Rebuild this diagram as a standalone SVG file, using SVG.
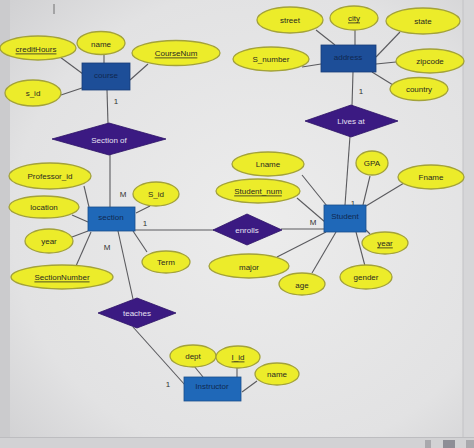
<svg xmlns="http://www.w3.org/2000/svg" width="474" height="448" viewBox="0 0 474 448">
<defs>
<radialGradient id="bg" cx="0.55" cy="0.5" r="0.75">
<stop offset="0" stop-color="#ececec"/>
<stop offset="0.7" stop-color="#e2e2e3"/>
<stop offset="1" stop-color="#cfcfd1"/>
</radialGradient>
<style>
.attr{fill:#ecec2a;stroke:#a3a23a;stroke-width:1.3}
.ent{fill:#1f68b8;stroke:#1a4f8c;stroke-width:0.8}
.entd{fill:#1d4e98;stroke:#173d78;stroke-width:0.8}
.rel{fill:#3b1a82;stroke:#2c1266;stroke-width:0.8}
.t{font-family:"Liberation Sans",Arial,sans-serif;font-size:8px;fill:#2a2a20;text-anchor:middle;dominant-baseline:central}
.tw{font-family:"Liberation Sans",Arial,sans-serif;font-size:8px;fill:#e6e0f2;text-anchor:middle;dominant-baseline:central}
.te{font-family:"Liberation Sans",Arial,sans-serif;font-size:8px;fill:#102850;text-anchor:middle;dominant-baseline:central}
.u{text-decoration:underline}
.c{font-family:"Liberation Sans",Arial,sans-serif;font-size:8px;fill:#333;text-anchor:middle;dominant-baseline:central}
.ln{stroke:#5a5a5e;stroke-width:1.1;fill:none}
</style>
</defs>
<rect x="0" y="0" width="474" height="448" fill="url(#bg)"/>
<rect x="0" y="0" width="10" height="438" fill="#cbcbcd"/>
<rect x="0" y="437" width="474" height="11" fill="#d2d2d4"/>
<line x1="0" y1="437.5" x2="474" y2="437.5" stroke="#bdbdc0" stroke-width="1"/>
<rect x="463" y="0" width="11" height="437" fill="#d6d6d8"/>
<line x1="463" y1="0" x2="463" y2="437" stroke="#c2c2c5" stroke-width="1"/>
<rect x="425" y="440" width="6" height="8" fill="#a9a9ad"/>
<rect x="443" y="440" width="12" height="8" fill="#8e8e96"/>
<rect x="466" y="440" width="8" height="8" fill="#a9a9ad"/>
<line x1="54" y1="4" x2="54" y2="14" stroke="#555" stroke-width="0.8"/>

<g id="connectors">
<line class="ln" x1="60" y1="57" x2="83" y2="74"/>
<line class="ln" x1="104" y1="55" x2="104" y2="63"/>
<line class="ln" x1="148" y1="64" x2="130" y2="80"/>
<line class="ln" x1="61" y1="95" x2="82" y2="88"/>
<line class="ln" x1="107" y1="90" x2="108" y2="124"/>
<line class="ln" x1="110" y1="154" x2="110" y2="207"/>
<line class="ln" x1="316" y1="30" x2="335" y2="45"/>
<line class="ln" x1="355" y1="30" x2="355" y2="45"/>
<line class="ln" x1="400" y1="32" x2="376" y2="57"/>
<line class="ln" x1="302" y1="67" x2="321" y2="64"/>
<line class="ln" x1="396" y1="62" x2="376" y2="64"/>
<line class="ln" x1="393" y1="85" x2="372" y2="72"/>
<line class="ln" x1="353" y1="72" x2="352" y2="106"/>
<line class="ln" x1="350" y1="136" x2="345" y2="205"/>
<line class="ln" x1="84" y1="186" x2="89" y2="207"/>
<line class="ln" x1="72" y1="215" x2="88" y2="222"/>
<line class="ln" x1="72" y1="237" x2="88" y2="231"/>
<line class="ln" x1="76" y1="266" x2="91" y2="232"/>
<line class="ln" x1="136" y1="213" x2="150" y2="206"/>
<line class="ln" x1="133" y1="231" x2="147" y2="252"/>
<line class="ln" x1="118" y1="231" x2="133" y2="299"/>
<line class="ln" x1="135" y1="230" x2="214" y2="230"/>
<line class="ln" x1="281" y1="229" x2="324" y2="229"/>
<line class="ln" x1="302" y1="175" x2="327" y2="206"/>
<line class="ln" x1="297" y1="198" x2="325" y2="222"/>
<line class="ln" x1="370" y1="176" x2="363" y2="205"/>
<line class="ln" x1="404" y1="183" x2="366" y2="206"/>
<line class="ln" x1="366" y1="230" x2="370" y2="234"/>
<line class="ln" x1="277" y1="257" x2="326" y2="232"/>
<line class="ln" x1="312" y1="273" x2="336" y2="232"/>
<line class="ln" x1="365" y1="266" x2="356" y2="232"/>
<line class="ln" x1="133" y1="327" x2="185" y2="385"/>
<line class="ln" x1="194" y1="366" x2="203" y2="377"/>
<line class="ln" x1="237" y1="368" x2="237" y2="377"/>
<line class="ln" x1="257" y1="381" x2="242" y2="392"/>
<text class="c" x="116" y="101">1</text>
<text class="c" x="361" y="91">1</text>
<text class="c" x="123" y="194">M</text>
<text class="c" x="145" y="223">1</text>
<text class="c" x="107" y="247">M</text>
<text class="c" x="313" y="222">M</text>
<text class="c" x="353" y="203">1</text>
<text class="c" x="168" y="384">1</text>
</g>

<g id="course"><rect class="entd" x="82" y="63" width="48" height="27"/><text class="te" x="106" y="75">course</text></g>
<g id="address"><rect class="entd" x="321" y="45" width="55" height="27"/><text class="te" x="348" y="57">address</text></g>
<g id="section"><rect class="ent" x="88" y="207" width="47" height="24"/><text class="te" x="111" y="217">section</text></g>
<g id="student"><rect class="ent" x="324" y="205" width="42" height="27"/><text class="te" x="345" y="216">Student</text></g>
<g id="instructor"><rect class="ent" x="184" y="377" width="57" height="24"/><text class="te" x="212" y="386">Instructor</text></g>

<g id="section-of"><polygon class="rel" points="52,139 109,123 166,139 109,155"/><text class="tw" x="109" y="140">Section of</text></g>
<g id="lives-at"><polygon class="rel" points="305,121 351,105 398,121 351,137"/><text class="tw" x="351" y="121">Lives at</text></g>
<g id="enrolls"><polygon class="rel" points="213,230 247,214 282,230 247,245"/><text class="tw" x="247" y="230">enrolls</text></g>
<g id="teaches"><polygon class="rel" points="98,313 137,298 176,313 137,328"/><text class="tw" x="137" y="313">teaches</text></g>

<g id="creditHours"><ellipse class="attr" cx="38" cy="48" rx="38" ry="12"/><text class="t u" x="36" y="49">creditHours</text></g>
<g id="course-name"><ellipse class="attr" cx="101" cy="43" rx="24" ry="11.5"/><text class="t" x="101" y="44">name</text></g>
<g id="CourseNum"><ellipse class="attr" cx="176" cy="53" rx="44" ry="12.5"/><text class="t u" x="176" y="53">CourseNum</text></g>
<g id="course-s_id"><ellipse class="attr" cx="33" cy="93" rx="28" ry="13"/><text class="t" x="33" y="93">s_id</text></g>

<g id="street"><ellipse class="attr" cx="290" cy="20" rx="33" ry="13"/><text class="t" x="290" y="20">street</text></g>
<g id="city"><ellipse class="attr" cx="354" cy="18" rx="24" ry="12"/><text class="t u" x="354" y="18">city</text></g>
<g id="state"><ellipse class="attr" cx="423" cy="21" rx="37" ry="13"/><text class="t" x="423" y="21">state</text></g>
<g id="S_number"><ellipse class="attr" cx="271" cy="59" rx="38" ry="12"/><text class="t" x="271" y="59">S_number</text></g>
<g id="zipcode"><ellipse class="attr" cx="430" cy="61" rx="34" ry="12"/><text class="t" x="430" y="61">zipcode</text></g>
<g id="country"><ellipse class="attr" cx="419" cy="89" rx="29" ry="11.5"/><text class="t" x="419" y="89">country</text></g>

<g id="Professor_id"><ellipse class="attr" cx="50" cy="176" rx="41" ry="13"/><text class="t" x="50" y="176">Professor_id</text></g>
<g id="location"><ellipse class="attr" cx="44" cy="207" rx="35" ry="11"/><text class="t" x="44" y="207">location</text></g>
<g id="section-year"><ellipse class="attr" cx="49" cy="241" rx="24" ry="12"/><text class="t" x="49" y="241">year</text></g>
<g id="SectionNumber"><ellipse class="attr" cx="62" cy="277" rx="51" ry="12"/><text class="t u" x="62" y="277">SectionNumber</text></g>
<g id="section-S_id"><ellipse class="attr" cx="156" cy="194" rx="23" ry="12"/><text class="t" x="156" y="194">S_id</text></g>
<g id="Term"><ellipse class="attr" cx="166" cy="262" rx="24" ry="11"/><text class="t" x="166" y="262">Term</text></g>

<g id="Lname"><ellipse class="attr" cx="268" cy="164" rx="36" ry="12"/><text class="t" x="268" y="164">Lname</text></g>
<g id="GPA"><ellipse class="attr" cx="372" cy="163" rx="16" ry="12"/><text class="t" x="372" y="163">GPA</text></g>
<g id="Fname"><ellipse class="attr" cx="431" cy="177" rx="33" ry="12"/><text class="t" x="431" y="177">Fname</text></g>
<g id="Student_num"><ellipse class="attr" cx="258" cy="191" rx="42" ry="12"/><text class="t u" x="258" y="191">Student_num</text></g>
<g id="student-year"><ellipse class="attr" cx="385" cy="243" rx="23" ry="11"/><text class="t u" x="385" y="243">year</text></g>
<g id="major"><ellipse class="attr" cx="249" cy="266" rx="40" ry="12"/><text class="t" x="249" y="267">major</text></g>
<g id="age"><ellipse class="attr" cx="302" cy="284" rx="23" ry="11"/><text class="t" x="302" y="285">age</text></g>
<g id="gender"><ellipse class="attr" cx="366" cy="277" rx="26" ry="12"/><text class="t" x="366" y="277">gender</text></g>

<g id="dept"><ellipse class="attr" cx="193" cy="356" rx="23" ry="11"/><text class="t" x="193" y="356">dept</text></g>
<g id="I_id"><ellipse class="attr" cx="238" cy="357" rx="22" ry="11"/><text class="t u" x="238" y="357">I_id</text></g>
<g id="instructor-name"><ellipse class="attr" cx="277" cy="374" rx="22" ry="11"/><text class="t" x="277" y="374">name</text></g>
</svg>
